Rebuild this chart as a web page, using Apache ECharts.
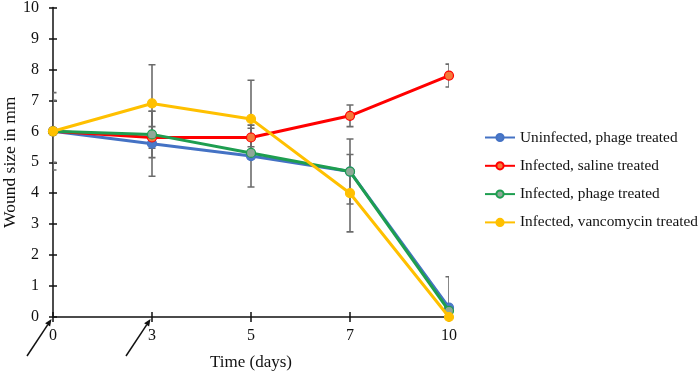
<!DOCTYPE html>
<html>
<head>
<meta charset="utf-8">
<script src="https://cdn.jsdelivr.net/npm/echarts@6/dist/echarts.min.js"></script>
<style>
html,body{margin:0;padding:0;background:#fff;}
#c{width:700px;height:374px;}
</style>
</head>
<body>
<div id="c"></div>
<script>
// ---- data ----
const days = ['0', '3', '5', '7', '10'];
const seriesNames = ['Uninfected, phage treated', 'Infected, saline treated', 'Infected, phage treated', 'Infected, vancomycin treated'];
const uninfectedPhage = [6, 5.6, 5.2, 4.7, 0.3];
const infectedSaline = [6, 5.8, 5.8, 6.5, 7.8];
const infectedPhage = [6, 5.9, 5.3, 4.7, 0.2];
const infectedVanco = [6, 6.9, 6.4, 4.0, 0];
// symmetric error bar half-widths (0 = none drawn)
const errUninfectedPhage = [1.0, 1.05, 1.0, 0, 0];
const errInfectedSaline = [0, 0.35, 0.3, 0.35, 0.37];
const errInfectedPhage = [0, 0.75, 0, 1.05, 1.1];
const errInfectedVanco = [1.25, 1.25, 1.25, 1.25, 0];
const yTicks = [0, 1, 2, 3, 4, 5, 6, 7, 8, 9, 10];
const arrowDays = ['0', '3'];

// ---- styling ----
const lineColors = ['#4472C4', '#FF0000', '#1E9E50', '#FFC000'];
const markerFill = ['#4A78C8', '#F47A3A', '#8FA898', '#FFC000'];
const FONT = '"Liberation Serif", "Times New Roman", serif';

const values = [uninfectedPhage, infectedSaline, infectedPhage, infectedVanco];
const errs = [errUninfectedPhage, errInfectedSaline, errInfectedPhage, errInfectedVanco];

const errData = [];
values.forEach((vals, s) => {
  vals.forEach((v, i) => {
    if (errs[s][i] > 0) errData.push([i, v - errs[s][i], v + errs[s][i]]);
  });
});

const chart = echarts.init(document.getElementById('c'), null, {renderer: 'canvas'});

const baseX = {
  type: 'category', data: days, boundaryGap: false, gridIndex: 0, position: 'bottom'
};
const baseY = {
  type: 'value', min: yTicks[0], max: yTicks[yTicks.length - 1], interval: 1, gridIndex: 0, position: 'left'
};

const option = {
  animation: false,
  backgroundColor: '#fff',
  grid: {left: 53, right: 251, top: 7.5, bottom: 57, containLabel: false, outerBoundsMode: 'none'},
  xAxis: [
    Object.assign({}, baseX, {
      name: 'Time (days)', nameLocation: 'middle', nameGap: 37, nameMoveOverlap: false,
      nameTextStyle: {fontFamily: FONT, fontSize: 17, color: '#111'},
      axisLine: {lineStyle: {color: '#111', width: 1.5}},
      axisTick: {show: true, inside: false, length: 5, lineStyle: {color: '#111', width: 1.5}},
      axisLabel: {fontFamily: FONT, fontSize: 16, color: '#111', margin: 11},
      splitLine: {show: false}
    }),
    Object.assign({}, baseX, {
      axisLine: {show: false},
      axisTick: {show: true, inside: true, length: 5, lineStyle: {color: '#111', width: 1.5}},
      axisLabel: {show: false},
      splitLine: {show: false}
    })
  ],
  yAxis: [
    Object.assign({}, baseY, {
      name: 'Wound size in mm', nameLocation: 'middle', nameGap: 34, nameRotate: 90, nameMoveOverlap: false,
      nameTextStyle: {fontFamily: FONT, fontSize: 17.5, color: '#111'},
      axisLine: {show: true, lineStyle: {color: '#111', width: 1.5}},
      axisTick: {show: true, inside: false, length: 4, lineStyle: {color: '#111', width: 1.5}},
      axisLabel: {fontFamily: FONT, fontSize: 16, color: '#111', margin: 14},
      splitLine: {show: false}
    }),
    Object.assign({}, baseY, {
      axisLine: {show: false},
      axisTick: {show: true, inside: true, length: 4, lineStyle: {color: '#111', width: 1.5}},
      axisLabel: {show: false},
      splitLine: {show: false}
    })
  ],
  legend: {
    orient: 'vertical', left: 479, top: 125,
    itemWidth: 30, itemHeight: 9, itemGap: 13.3,
    textStyle: {fontFamily: FONT, fontSize: 15.3, color: '#111'},
    data: seriesNames
  },
  series: [
    {
      type: 'custom', name: 'err', xAxisIndex: 0, yAxisIndex: 0, z: 1,
      clip: true, silent: true,
      data: errData,
      renderItem: function (params, api) {
        const lo = api.coord([api.value(0), api.value(1)]);
        const hi = api.coord([api.value(0), api.value(2)]);
        const w = 3.5;
        const st = {stroke: '#6b6b6b', lineWidth: 1.6};
        return {
          type: 'group',
          children: [
            {type: 'line', shape: {x1: lo[0], y1: lo[1], x2: hi[0], y2: hi[1]}, style: st},
            {type: 'line', shape: {x1: lo[0] - w, y1: lo[1], x2: lo[0] + w, y2: lo[1]}, style: st},
            {type: 'line', shape: {x1: hi[0] - w, y1: hi[1], x2: hi[0] + w, y2: hi[1]}, style: st}
          ]
        };
      }
    }
  ].concat(values.map((vals, s) => ({
    type: 'line', name: seriesNames[s], data: vals, xAxisIndex: 0, yAxisIndex: 0, z: 2 + s,
    symbol: 'circle', symbolSize: 9,
    lineStyle: {color: lineColors[s], width: 3},
    itemStyle: {color: markerFill[s], borderColor: lineColors[s], borderWidth: 1.2},
    emphasis: {disabled: true}
  })))
};

chart.setOption(option);

// arrows pointing at the treatment days
const arrowEls = [];
arrowDays.forEach((d) => {
  const p = chart.convertToPixel({xAxisIndex: 0, yAxisIndex: 0}, [d, 0]);
  const x2 = p[0] - 1.5, y2 = p[1] + 2;
  const x1 = p[0] - 26, y1 = p[1] + 39;
  const ang = Math.atan2(y2 - y1, x2 - x1);
  const L = 7, W = 3;
  const bx = x2 - L * Math.cos(ang), by = y2 - L * Math.sin(ang);
  const nx = -Math.sin(ang), ny = Math.cos(ang);
  arrowEls.push({
    type: 'line', shape: {x1: x1, y1: y1, x2: bx, y2: by},
    style: {stroke: '#111', lineWidth: 1.5}, z: 10
  });
  arrowEls.push({
    type: 'polygon',
    shape: {points: [[x2, y2], [bx + nx * W, by + ny * W], [bx - nx * W, by - ny * W]]},
    style: {fill: '#111'}, z: 10
  });
});
chart.setOption({graphic: arrowEls});
</script>
</body>
</html>
